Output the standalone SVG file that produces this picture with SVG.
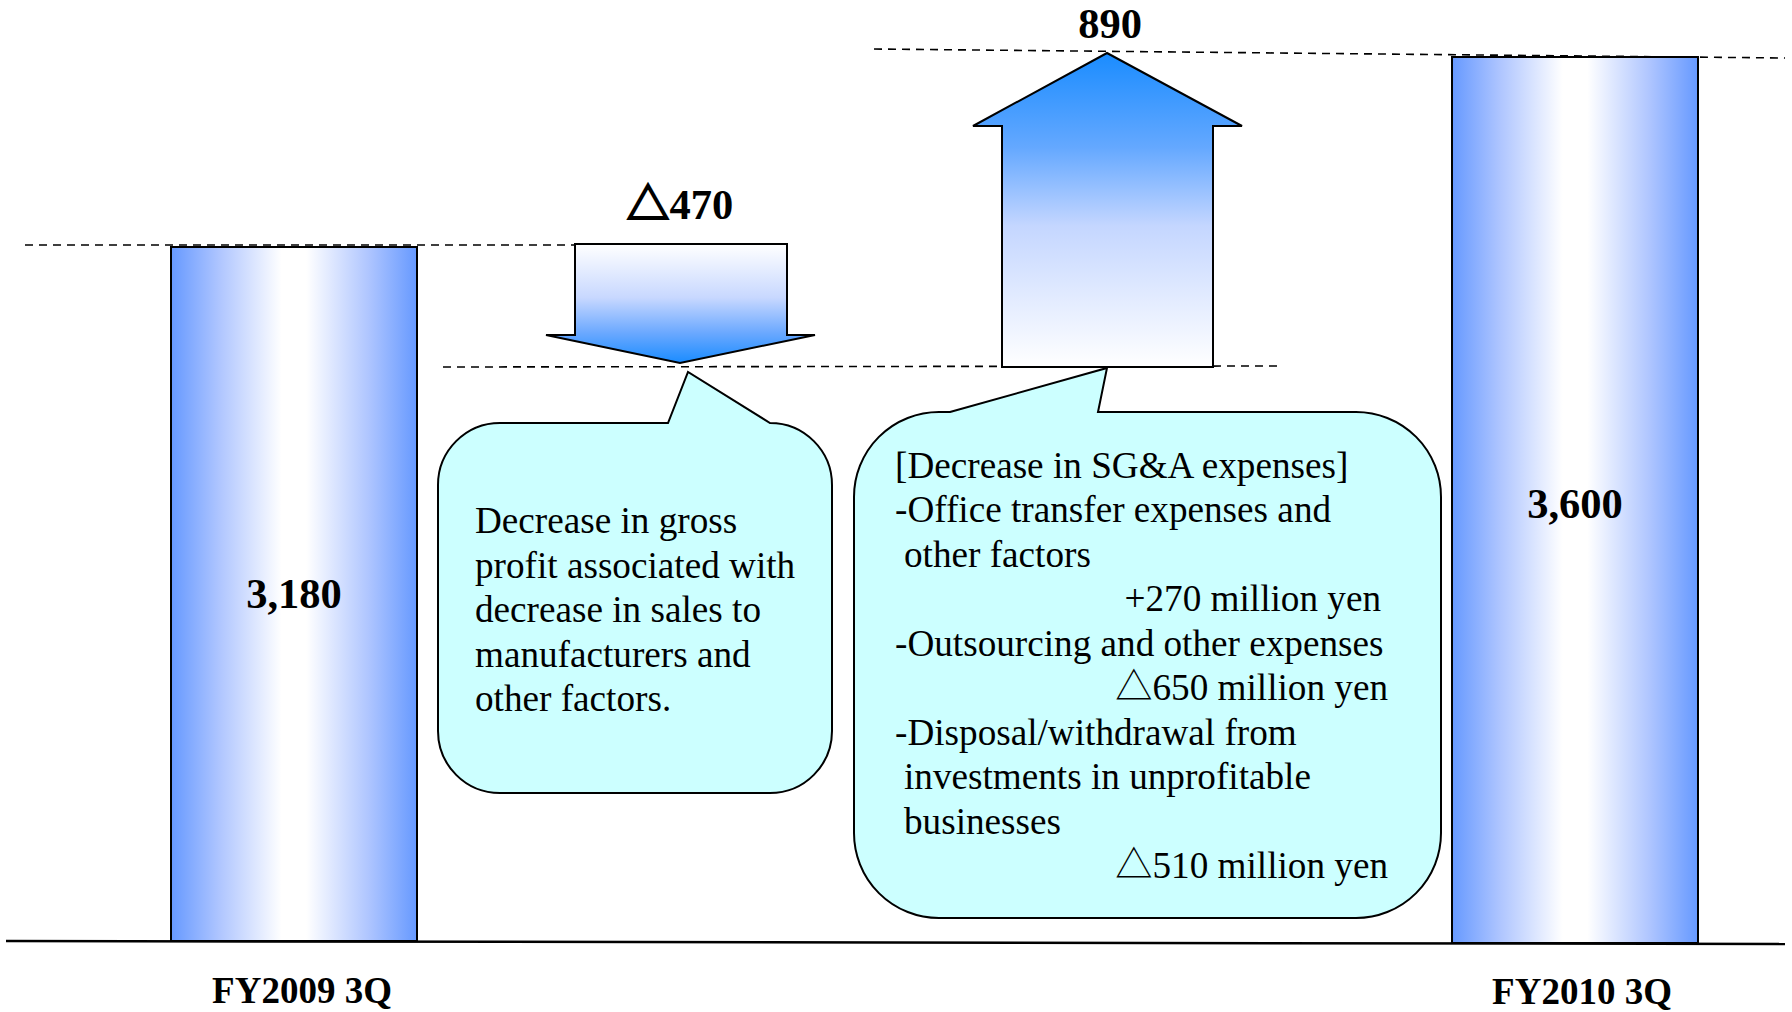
<svg xmlns="http://www.w3.org/2000/svg" width="1792" height="1012" viewBox="0 0 1792 1012">
<defs>
<linearGradient id="barGrad" x1="0" y1="0" x2="1" y2="0">
<stop offset="0" stop-color="#6699ff"/>
<stop offset="0.2" stop-color="#b0c6ff"/>
<stop offset="0.45" stop-color="#ffffff"/>
<stop offset="0.55" stop-color="#ffffff"/>
<stop offset="0.8" stop-color="#b0c6ff"/>
<stop offset="1" stop-color="#6699ff"/>
</linearGradient>
<linearGradient id="downGrad" x1="0" y1="0" x2="0" y2="1">
<stop offset="0" stop-color="#ffffff"/>
<stop offset="0.45" stop-color="#c8d8ff"/>
<stop offset="0.75" stop-color="#6aa8ff"/>
<stop offset="1" stop-color="#1a8cff"/>
</linearGradient>
<linearGradient id="upGrad" x1="0" y1="0" x2="0" y2="1">
<stop offset="0" stop-color="#1a8cff"/>
<stop offset="0.3" stop-color="#64a8ff"/>
<stop offset="0.55" stop-color="#c4d6ff"/>
<stop offset="1" stop-color="#ffffff"/>
</linearGradient>
<style>
.bar{fill:url(#barGrad);stroke:#000;stroke-width:2}
.arrow{stroke:#000;stroke-width:2;stroke-linejoin:miter}
.callout{fill:#ccffff;stroke:#000;stroke-width:2}
.dash{fill:none;stroke:#000;stroke-width:1.6;stroke-dasharray:8,6}
.base{fill:none;stroke:#000;stroke-width:2.5}
.big{font-family:"Liberation Serif","DejaVu Serif",serif;font-weight:bold;font-size:42.5px;fill:#000;text-anchor:middle}
.lbl{font-family:"Liberation Serif","DejaVu Serif",serif;font-weight:bold;font-size:37px;fill:#000;text-anchor:middle}
.body{font-family:"Liberation Serif","DejaVu Serif",serif;font-size:37.2px;fill:#000}
.tri{font-family:"Noto Sans CJK JP","DejaVu Sans",sans-serif}
.tribold{stroke:#000;stroke-width:2;stroke-linejoin:miter}
.end{text-anchor:end}
</style>
</defs>
<rect width="1792" height="1012" fill="#ffffff"/>
<g id="connectors">
<line class="dash" x1="25" y1="245" x2="575" y2="245"/>
<line class="dash" x1="443" y1="367" x2="1277" y2="366"/>
<line class="dash" x1="874" y1="49" x2="1785" y2="58"/>
<line class="base" x1="6" y1="941" x2="1785" y2="944"/>
</g>
<g id="bar-fy2009">
<rect class="bar" x="171" y="247" width="246" height="694"/>
<text class="big" x="294" y="608">3,180</text>
<text class="lbl" x="302" y="1003">FY2009 3Q</text>
</g>
<g id="bar-fy2010">
<rect class="bar" x="1452" y="57" width="246" height="886"/>
<text class="big" x="1575" y="518">3,600</text>
<text class="lbl" x="1582" y="1004">FY2010 3Q</text>
</g>
<g id="arrow-down">
<polygon class="arrow" fill="url(#downGrad)" points="575,244 787,244 787,335 815,335 680,363 546,335 575,335"/>
<text class="big" x="680" y="219"><tspan class="tri tribold">△</tspan>470</text>
</g>
<g id="arrow-up">
<polygon class="arrow" fill="url(#upGrad)" points="1107,53 1242,126 1213,126 1213,367 1002,367 1002,126 973,126"/>
<text class="big" x="1110" y="38">890</text>
</g>
<g id="callout-left">
<path class="callout" d="M500 423 H668 L688 372 L770 423 A62 62 0 0 1 832 485 V731 A62 62 0 0 1 770 793 H500 A62 62 0 0 1 438 731 V485 A62 62 0 0 1 500 423 Z"/>
<text class="body" x="475" y="533">Decrease in gross</text>
<text class="body" x="475" y="577.5">profit associated with</text>
<text class="body" x="475" y="622">decrease in sales to</text>
<text class="body" x="475" y="666.5">manufacturers and</text>
<text class="body" x="475" y="711">other factors.</text>
</g>
<g id="callout-right">
<path class="callout" d="M950 412 L1107 368 L1098 412 H1356 A85 85 0 0 1 1441 497 V833 A85 85 0 0 1 1356 918 H939 A85 85 0 0 1 854 833 V497 A85 85 0 0 1 939 412 Z"/>
<text class="body" x="895" y="478">[Decrease in SG&amp;A expenses]</text>
<text class="body" x="895" y="522">-Office transfer expenses and</text>
<text class="body" x="904" y="567">other factors</text>
<text class="body end" x="1381" y="611">+270 million yen</text>
<text class="body" x="895" y="656">-Outsourcing and other expenses</text>
<text class="body end" x="1388" y="700"><tspan class="tri">△</tspan>650 million yen</text>
<text class="body" x="895" y="745">-Disposal/withdrawal from</text>
<text class="body" x="904" y="789">investments in unprofitable</text>
<text class="body" x="904" y="834">businesses</text>
<text class="body end" x="1388" y="878"><tspan class="tri">△</tspan>510 million yen</text>
</g>
</svg>
